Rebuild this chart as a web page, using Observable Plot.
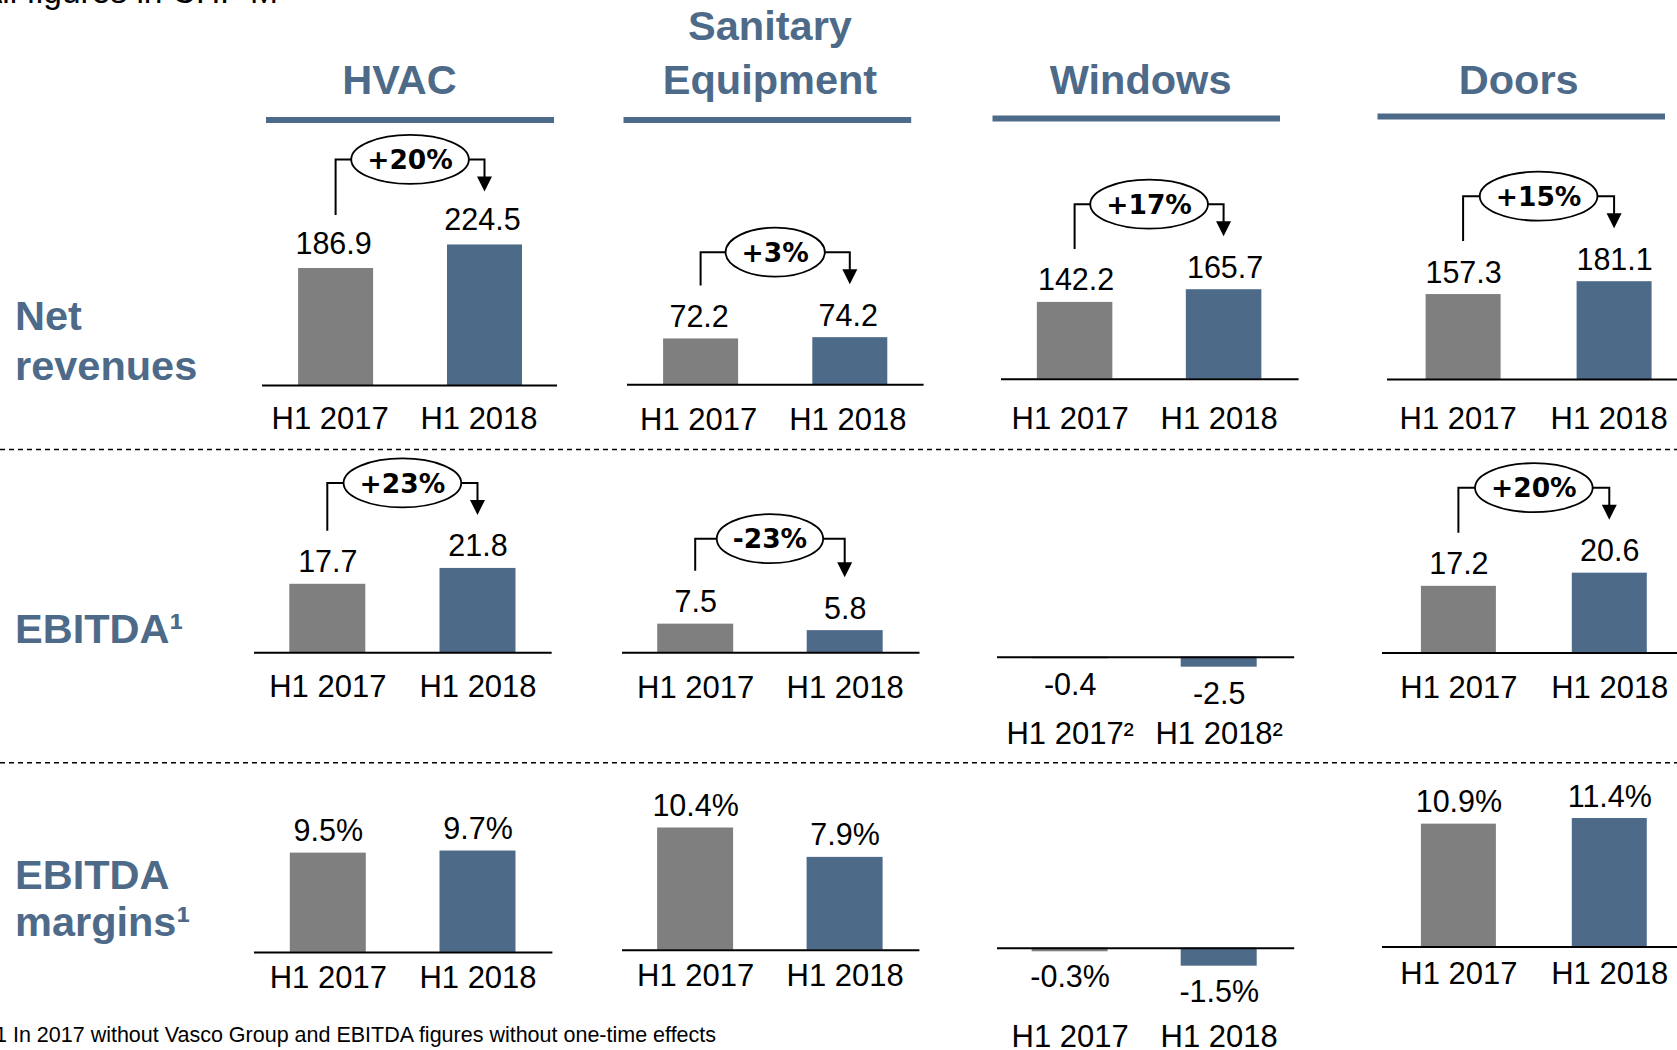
<!DOCTYPE html>
<html><head><meta charset="utf-8">
<script src="https://cdn.jsdelivr.net/npm/d3@7"></script>
<script src="https://cdn.jsdelivr.net/npm/@observablehq/plot@0.6"></script>
<style>
body{margin:0;background:#fff;}
#root{position:relative;width:1677px;height:1050px;overflow:hidden;background:#fff;font-family:"Liberation Sans",Arial,sans-serif;}
#root svg{position:absolute;overflow:visible;max-width:none;}
</style></head><body><div id="root"></div>
<script>
// ---------- data ----------
const segments = ["HVAC", "Sanitary Equipment", "Windows", "Doors"];
const periods = ["H1 2017", "H1 2018"];
const netRevenues = [[186.9, 224.5], [72.2, 74.2], [142.2, 165.7], [157.3, 181.1]];
const ebitda = [[17.7, 21.8], [7.5, 5.8], [-0.4, -2.5], [17.2, 20.6]];
const ebitdaMargins = [[9.5, 9.7], [10.4, 7.9], [-0.3, -1.5], [10.9, 11.4]];
const revenueGrowth = ["+20%", "+3%", "+17%", "+15%"];
const ebitdaGrowth = ["+23%", "-23%", null, "+20%"];
const rowLabels = [["Net", "revenues"], ["EBITDA\u00b9"], ["EBITDA", "margins\u00b9"]];
const windowsEbitdaSuffix = "\u00b2";
const footnote = "1 In 2017 without Vasco Group and EBITDA figures without one-time effects";
const unitNote = "All figures in CHF M";

// ---------- style / layout ----------
const BLUE = "#4e6a89", GRAY = "#7f7f7f";
const barColors = [GRAY, BLUE];
const FONT = "Liberation Sans, Arial, sans-serif";
const rowBox = [{top: 125, height: 320}, {top: 453, height: 300}, {top: 766, height: 284}];
const layout = [
  [ {x1: 261.7, x2: 556.7, base: 385,   c1: 335.3, c2: 484.2, w: 75,   k: 0.626, cat: 428.3, gap: 14.5, catDx: -6, valDx: -2.5},
    {x1: 626.7, x2: 923.3, base: 384.3, c1: 700.3, c2: 849.5, w: 75,   k: 0.635, cat: 430,   gap: 12, catDx: -2.5, valDx: -2},
    {x1: 1000.7, x2: 1298.3, base: 378.7, c1: 1074.3, c2: 1223.3, w: 75.5, k: 0.54, cat: 428.3, gap: 12, catDx: -5, valDx: 1},
    {x1: 1386.7, x2: 1677, base: 379,   c1: 1462.8, c2: 1613.8, w: 75,   k: 0.54,  cat: 428.3, gap: 12, catDx: -5.5, valDx: 0} ],
  [ {x1: 254,   x2: 551.7, base: 652.3, c1: 327.3, c2: 477.5, w: 76,   k: 3.87,  cat: 697,   gap: 12},
    {x1: 622.3, x2: 919.8, base: 652.3, c1: 695.5, c2: 845,   w: 76,   k: 3.82,  cat: 697,   gap: 12},
    {x1: 996.8, x2: 1294,  base: 656.7, c1: 1069.5, c2: 1218.5, w: 76,  k: 4.0,   cat: 744,   gap: 12, neg: 15},
    {x1: 1381.8, x2: 1677, base: 652.4, c1: 1458.2, c2: 1609.1, w: 75,  k: 3.87,  cat: 698,   gap: 12} ],
  [ {x1: 253.5, x2: 551.9, base: 951.9, c1: 327.3, c2: 477,   w: 76,   k: 10.45, cat: 987.5, gap: 12},
    {x1: 622.4, x2: 919.8, base: 949.7, c1: 695.5, c2: 845,   w: 76,   k: 11.75, cat: 986,   gap: 12},
    {x1: 996.8, x2: 1294,  base: 947.7, c1: 1069.4, c2: 1218.5, w: 76,  k: 12,    cat: 1047,  gap: 12, neg: 14},
    {x1: 1381.8, x2: 1677, base: 946.5, c1: 1458.2, c2: 1609.1, w: 75,  k: 11.27, cat: 983.5, gap: 12} ]
];

const root = document.getElementById("root");

// ---------- static frame: headers, row labels, separators, notes ----------
const frame = d3.create("svg").attr("width", 1677).attr("height", 1050)
  .style("left", "0px").style("top", "0px");
const headerLayout = [
  {cx: 399.5, lines: [94], ul: [266, 554, 117]},
  {cx: 770, lines: [40, 94], ul: [623.5, 911.2, 117]},
  {cx: 1140.6, lines: [94], ul: [992.5, 1280, 115.5]},
  {cx: 1518.7, lines: [94], ul: [1377.5, 1665, 113.5]}
];
segments.forEach((s, i) => {
  const h = headerLayout[i];
  const words = h.lines.length > 1 ? s.split(" ") : [s];
  words.forEach((wd, j) => frame.append("text").attr("x", h.cx).attr("y", h.lines[j])
    .attr("text-anchor", "middle").attr("font-family", FONT).attr("font-weight", "bold")
    .attr("font-size", 41.5).attr("fill", BLUE).text(wd));
  frame.append("rect").attr("x", h.ul[0]).attr("y", h.ul[2])
    .attr("width", h.ul[1] - h.ul[0]).attr("height", 6).attr("fill", BLUE);
});
const rowLabelY = [[330, 380], [643], [888.8, 936]];
rowLabels.forEach((lines, r) => lines.forEach((t, j) => frame.append("text")
  .attr("x", 15).attr("y", rowLabelY[r][j]).attr("font-family", FONT).attr("font-weight", "bold")
  .attr("font-size", 41.5).attr("fill", BLUE).text(t)));
[449.5, 762.8].forEach(y => frame.append("line").attr("x1", 0).attr("x2", 1677).attr("y1", y).attr("y2", y)
  .attr("stroke", "#000").attr("stroke-width", 1.5).attr("stroke-dasharray", "5,4"));
frame.append("text").attr("x", -5).attr("y", 1042).attr("font-family", FONT).attr("font-size", 21.5)
  .attr("fill", "#000").text(footnote);
frame.append("text").attr("x", -20).attr("y", 3).attr("font-family", FONT).attr("font-size", 33.5)
  .attr("fill", "#000").text(unitNote);
root.appendChild(frame.node());

// ---------- growth annotation (drawn through the panel's scales) ----------
const glyphW = {"+": 0.838, "-": 0.415, "%": 1.002};
const estWidth = s => [...s].reduce((a, c) => a + (glyphW[c] ?? 0.696), 0);
function growthMark(vals, label) {
  return (index, scales) => {
    const x = scales.x, y = scales.y;
    const bw = typeof x.bandwidth === "function" ? x.bandwidth() : (x.bandwidth || 0);
    const xa = x(periods[0]) + bw / 2, xb = x(periods[1]) + bw / 2;
    const ya = y(vals[0]) - 53, yb = y(vals[1]) - 53;
    const yl = Math.min(y(vals[0]), y(vals[1])) - 85;
    const xm = (xa + xb) / 2;
    const fs = 26.5;
    const rx = (estWidth(label) * fs + 32) / 2, ry = 24.5;
    const g = d3.create("svg:g");
    g.append("path").attr("d", `M${xa},${ya}V${yl}H${xm - rx}M${xm + rx},${yl}H${xb}V${yb - 14}`)
      .attr("fill", "none").attr("stroke", "#000").attr("stroke-width", 2);
    g.append("path").attr("d", `M${xb - 7.5},${yb - 15}L${xb + 7.5},${yb - 15}L${xb},${yb}Z`).attr("fill", "#000");
    g.append("ellipse").attr("cx", xm).attr("cy", yl).attr("rx", rx).attr("ry", ry)
      .attr("fill", "#fff").attr("stroke", "#000").attr("stroke-width", 1.8);
    g.append("text").attr("x", xm).attr("y", yl + 9.7).attr("text-anchor", "middle")
      .attr("font-family", "DejaVu Sans, sans-serif").attr("font-weight", "bold").attr("font-size", fs)
      .attr("fill", "#000").text(label);
    return g.node();
  };
}

// ---------- one small bar chart per segment and metric ----------
function panel(row, col, values, fmt, growth, suffix) {
  const L = layout[row][col], box = rowBox[row];
  const left = L.x1, top = box.top;
  const data = periods.map((p, i) => ({period: p, value: values[i], label: fmt(values[i]), cat: p + (suffix || "")}));
  const step = L.c2 - L.c1;
  const marks = [
    Plot.barY(data, {x: "period", y: "value", fill: "period"}),
    Plot.ruleY([0], {stroke: "#000", strokeWidth: 2}),
    Plot.text(data.filter(d => d.value >= 0), {x: "period", y: "value", text: "label", dx: L.valDx || 0, dy: -L.gap, lineAnchor: "bottom", fontSize: 30.5}),
    Plot.text(data.filter(d => d.value < 0), {x: "period", y: "value", text: "label", dy: L.neg || 15, lineAnchor: "top", fontSize: 30.5}),
    Plot.text(data, {x: "period", y: () => 0, text: "cat", dx: L.catDx || 0, dy: L.cat - L.base, lineAnchor: "bottom", fontSize: 31})
  ];
  if (growth) marks.push(growthMark(values, growth));
  const svg = Plot.plot({
    width: L.x2 - L.x1, height: box.height,
    marginTop: 0, marginRight: 0, marginBottom: 0, marginLeft: 0,
    x: {type: "band", domain: periods, range: [L.c1 - L.w / 2 - left, L.c2 + L.w / 2 - left],
        paddingInner: 1 - L.w / step, paddingOuter: 0, align: 0.5, round: false, axis: null},
    y: {type: "linear", domain: [0, 1], range: [L.base - top, L.base - top - L.k], axis: null},
    color: {type: "ordinal", domain: periods, range: barColors},
    style: {background: "transparent", overflow: "visible", fontFamily: FONT, fontSize: "30px", color: "#000"},
    marks
  });
  svg.style.left = left + "px";
  svg.style.top = top + "px";
  svg.style.position = "absolute";
  svg.style.maxWidth = "none";
  root.appendChild(svg);
}

const f1 = v => v.toFixed(1);
const fp = v => v.toFixed(1) + "%";
segments.forEach((s, c) => {
  panel(0, c, netRevenues[c], f1, revenueGrowth[c]);
  panel(1, c, ebitda[c], f1, ebitdaGrowth[c], c === 2 ? windowsEbitdaSuffix : "");
  panel(2, c, ebitdaMargins[c], fp, null);
});
</script></body></html>
